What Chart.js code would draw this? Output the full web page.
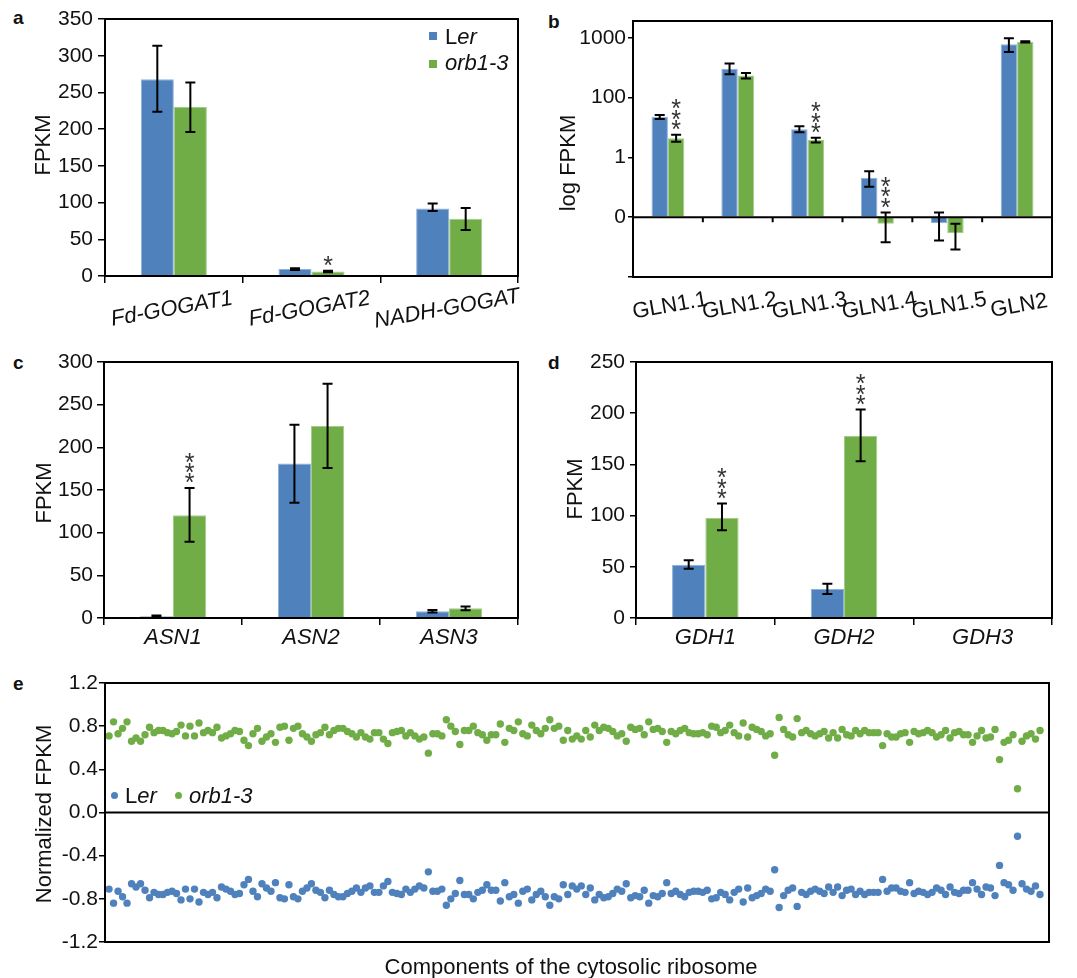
<!DOCTYPE html>
<html><head><meta charset="utf-8">
<script src="https://cdn.jsdelivr.net/npm/chart.js@4.4.1/dist/chart.umd.min.js"></script>
<style>
html,body{margin:0;padding:0;background:#fff;}
body{width:1077px;height:978px;position:relative;overflow:hidden;font-family:"Liberation Sans",Arial,Helvetica,sans-serif;color:#111;}
.box{position:absolute;}
.t{position:absolute;white-space:nowrap;line-height:1;font-size:22px;}
.rot{transform:translate(-50%,-50%) rotate(-90deg);}
.ctr{transform:translate(-50%,-50%);}
.letter{position:absolute;font-weight:bold;font-size:19px;line-height:1;}
.sq{position:absolute;width:8px;height:8px;}
.dot{position:absolute;width:7px;height:7px;border-radius:50%;}
.up{font-style:normal;}
</style></head><body>
<div class="box" id="pa"><canvas></canvas></div>
<div class="box" id="pb"><canvas></canvas></div>
<div class="box" id="pc"><canvas></canvas></div>
<div class="box" id="pd"><canvas></canvas></div>
<div class="box" id="pe"><canvas></canvas></div>

<div class="letter" style="left:13px;top:8px">a</div>
<div class="letter" style="left:548px;top:12px">b</div>
<div class="letter" style="left:13px;top:353px">c</div>
<div class="letter" style="left:548px;top:353px">d</div>
<div class="letter" style="left:13px;top:674px">e</div>

<div class="t rot" style="left:43px;top:145px">FPKM</div>
<div class="t rot" style="left:568px;top:163px">log FPKM</div>
<div class="t rot" style="left:44px;top:493px">FPKM</div>
<div class="t rot" style="left:575px;top:489px">FPKM</div>
<div class="t rot" style="left:44px;top:814px">Normalized FPKM</div>
<div class="t ctr" style="left:571px;top:967px">Components of the cytosolic ribosome</div>

<div class="sq" style="left:429px;top:32px;background:#4f81bd"></div>
<div class="t" style="left:445px;top:26px"><span class="up">L</span><i>er</i></div>
<div class="sq" style="left:429px;top:60px;background:#70ad47"></div>
<div class="t" style="left:445px;top:52px"><i>orb1-3</i></div>

<div class="dot" style="left:111px;top:792px;background:#4f81bd"></div>
<div class="t" style="left:125px;top:785px"><span class="up">L</span><i>er</i></div>
<div class="dot" style="left:175px;top:792px;background:#70ad47"></div>
<div class="t" style="left:189px;top:785px"><i>orb1-3</i></div>

<script>
const BLUE = '#4f81bd', GREEN = '#70ad47';
const BLUE_EDGE = '#8fb0d8', GREEN_EDGE = '#a3cc88';

// ---------- Panel a ----------
const aCats = ['Fd-GOGAT1', 'Fd-GOGAT2', 'NADH-GOGAT'];
const aLer = [268, 9.5, 92];
const aLerLo = [223.6, 8.3, 88.6];
const aLerHi = [313.6, 10.7, 98.6];
const aOrb = [230, 6, 78];
const aOrbLo = [196, 5, 62.7];
const aOrbHi = [263.6, 7, 92.7];
const aTickVals = [0, 50, 100, 150, 200, 250, 300, 350];
const aTickLabels = ['0', '50', '100', '150', '200', '250', '300', '350'];
const aStars = [{cat: 1, n: 1}];

// ---------- Panel b (log10 units) ----------
const bCats = ['GLN1.1', 'GLN1.2', 'GLN1.3', 'GLN1.4', 'GLN1.5', 'GLN2'];
const bLer = [1.68, 2.48, 1.47, 0.66, -0.10, 2.89];
const bLerLo = [1.64, 2.39, 1.42, 0.51, -0.39, 2.76];
const bLerHi = [1.71, 2.57, 1.52, 0.77, 0.08, 2.99];
const bOrb = [1.32, 2.37, 1.29, -0.11, -0.27, 2.93];
const bOrbLo = [1.26, 2.32, 1.25, -0.42, -0.54, 2.92];
const bOrbHi = [1.38, 2.41, 1.33, 0.08, -0.11, 2.94];
const bTickVals = [-1, 0, 1, 2, 3];
const bTickLabels = ['', '0', '1', '100', '1000'];
const bStars = [{cat: 0, n: 3}, {cat: 2, n: 3}, {cat: 3, n: 3}];

// ---------- Panel c ----------
const cCats = ['ASN1', 'ASN2', 'ASN3'];
const cLer = [2, 181, 7.8];
const cLerLo = [1.2, 135.2, 6.4];
const cLerHi = [2.8, 226.6, 9.3];
const cOrb = [120.3, 225, 11.3];
const cOrbLo = [89.5, 175.8, 9.0];
const cOrbHi = [152.3, 274.6, 13.6];
const cTickVals = [0, 50, 100, 150, 200, 250, 300];
const cTickLabels = ['0', '50', '100', '150', '200', '250', '300'];
const cStars = [{cat: 0, n: 3}];

// ---------- Panel d ----------
const dCats = ['GDH1', 'GDH2', 'GDH3'];
const dLer = [52.1, 28.3, 0.3];
const dLerLo = [48.2, 23.4, null];
const dLerHi = [56.3, 33.5, null];
const dOrb = [98, 177.7, 0.3];
const dOrbLo = [85.6, 153, null];
const dOrbHi = [111.7, 203.5, null];
const dTickVals = [0, 50, 100, 150, 200, 250];
const dTickLabels = ['0', '50', '100', '150', '200', '250'];
const dStars = [{cat: 0, n: 3}, {cat: 1, n: 3}];

// ---------- Panel e ----------
const eOrb = [
0.71,0.84,0.73,0.78,0.84,0.66,0.69,0.66,0.72,0.79,0.74,0.76,0.76,0.74,0.73,0.75,0.81,0.71,0.80,0.71,0.83,0.74,0.76,0.74,0.79,0.69,0.71,0.73,0.76,0.75,0.67,0.62,0.73,
0.78,0.66,0.70,0.73,0.65,0.79,0.80,0.67,0.78,0.80,0.73,0.70,0.66,0.72,0.74,0.79,0.72,0.76,0.78,0.78,0.75,0.73,0.70,0.74,0.70,0.68,0.74,0.74,0.68,0.64,0.74,0.75,0.76,0.71,0.74,
0.71,0.68,0.70,0.55,0.73,0.73,0.71,0.86,0.80,0.75,0.63,0.76,0.76,0.80,0.74,0.72,0.67,0.72,0.72,0.82,0.65,0.78,0.76,0.84,0.73,0.71,0.81,0.76,0.73,0.78,0.86,0.78,0.80,0.67,
0.76,0.68,0.71,0.68,0.76,0.70,0.81,0.76,0.79,0.78,0.75,0.71,0.73,0.66,0.79,0.77,0.78,0.72,0.84,0.77,0.78,0.75,0.65,0.75,0.73,0.76,0.78,0.74,0.73,0.73,0.74,0.72,0.80,0.79,0.74,
0.76,0.81,0.74,0.71,0.83,0.70,0.79,0.77,0.75,0.71,0.73,0.53,0.88,0.77,0.72,0.70,0.87,0.74,0.76,0.73,0.71,0.73,0.75,0.69,0.74,0.69,0.77,0.72,0.71,0.76,0.73,0.76,0.74,0.74,0.74,
0.62,0.73,0.70,0.70,0.73,0.74,0.65,0.75,0.73,0.74,0.76,0.74,0.70,0.72,0.76,0.69,0.74,0.75,0.72,0.72,0.65,0.71,0.76,0.69,0.70,0.77,0.49,0.65,0.67,0.72,0.22,0.66,0.71,0.73,0.68,0.76
];
const eLer = [
-0.71,-0.84,-0.73,-0.78,-0.84,-0.66,-0.69,-0.66,-0.72,-0.79,-0.74,-0.76,-0.76,-0.74,-0.73,-0.75,-0.81,-0.71,-0.80,-0.71,-0.83,-0.74,-0.76,-0.74,-0.79,-0.69,-0.71,-0.73,-0.76,-0.75,-0.67,-0.62,-0.73,
-0.78,-0.66,-0.70,-0.73,-0.65,-0.79,-0.80,-0.67,-0.78,-0.80,-0.73,-0.70,-0.66,-0.72,-0.74,-0.79,-0.72,-0.76,-0.78,-0.78,-0.75,-0.73,-0.70,-0.74,-0.70,-0.68,-0.74,-0.74,-0.68,-0.64,-0.74,-0.75,-0.76,-0.71,-0.74,
-0.71,-0.68,-0.70,-0.55,-0.73,-0.73,-0.71,-0.86,-0.80,-0.75,-0.63,-0.76,-0.76,-0.80,-0.74,-0.72,-0.67,-0.72,-0.72,-0.82,-0.65,-0.78,-0.76,-0.84,-0.73,-0.71,-0.81,-0.76,-0.73,-0.78,-0.86,-0.78,-0.80,-0.67,
-0.76,-0.68,-0.71,-0.68,-0.76,-0.70,-0.81,-0.76,-0.79,-0.78,-0.75,-0.71,-0.73,-0.66,-0.79,-0.77,-0.78,-0.72,-0.84,-0.77,-0.78,-0.75,-0.65,-0.75,-0.73,-0.76,-0.78,-0.74,-0.73,-0.73,-0.74,-0.72,-0.80,-0.79,-0.74,
-0.76,-0.81,-0.74,-0.71,-0.83,-0.70,-0.79,-0.77,-0.75,-0.71,-0.73,-0.53,-0.88,-0.77,-0.72,-0.70,-0.87,-0.74,-0.76,-0.73,-0.71,-0.73,-0.75,-0.69,-0.74,-0.69,-0.77,-0.72,-0.71,-0.76,-0.73,-0.76,-0.74,-0.74,-0.74,
-0.62,-0.73,-0.70,-0.70,-0.73,-0.74,-0.65,-0.75,-0.73,-0.74,-0.76,-0.74,-0.70,-0.72,-0.76,-0.69,-0.74,-0.75,-0.72,-0.72,-0.65,-0.71,-0.76,-0.69,-0.70,-0.77,-0.49,-0.65,-0.67,-0.72,-0.22,-0.66,-0.71,-0.73,-0.68,-0.76
];
const eTickVals = [-1.2, -0.8, -0.4, 0, 0.4, 0.8, 1.2];
const eTickLabels = ['-1.2', '-0.8', '-0.4', '0.0', '0.4', '0.8', '1.2'];

// ---------- helpers ----------
Chart.defaults.font.family = '"Liberation Sans", Arial, Helvetica, sans-serif';
Chart.defaults.font.size = 21;
Chart.defaults.color = '#111';
const FONT = '"Liberation Sans", Arial, Helvetica, sans-serif';

function geom(box, area) {
  return {yw: area.L - box.left, pt: area.T - box.top, pr: box.left + box.width - area.R, xh: box.top + box.height - area.B};
}
function placeDiv(id, box) {
  const d = document.getElementById(id);
  d.style.left = box.left + 'px'; d.style.top = box.top + 'px';
  d.style.width = box.width + 'px'; d.style.height = box.height + 'px';
  return d.querySelector('canvas');
}

function makePlugin(o) {
  return {
    id: 'panel_' + o.id,
    afterDatasetsDraw(chart) {
      const ctx = chart.ctx, ys = chart.scales.y, xs = chart.scales.x, ca = chart.chartArea;
      ctx.save();
      ctx.strokeStyle = '#000';
      if (o.zeroLine) {
        const y0 = ys.getPixelForValue(0);
        ctx.lineWidth = 2;
        ctx.beginPath(); ctx.moveTo(ca.left, y0); ctx.lineTo(ca.right, y0); ctx.stroke();
        if (o.zeroTicks) {
          ctx.beginPath();
          for (let i = 1; i < o.cats.length; i++) {
            const px = (xs.getPixelForValue(i - 1) + xs.getPixelForValue(i)) / 2;
            ctx.moveTo(px, y0); ctx.lineTo(px, y0 + 5);
          }
          ctx.stroke();
        }
      }
      if (o.err) {
        ctx.lineWidth = 2;
        o.err.forEach((e, di) => {
          const meta = chart.getDatasetMeta(di);
          meta.data.forEach((bar, i) => {
            if (e.lo[i] == null) return;
            const x0 = bar.x, yl = ys.getPixelForValue(e.lo[i]), yh = ys.getPixelForValue(e.hi[i]);
            ctx.beginPath();
            ctx.moveTo(x0, yl); ctx.lineTo(x0, yh);
            ctx.moveTo(x0 - 5, yl); ctx.lineTo(x0 + 5, yl);
            ctx.moveTo(x0 - 5, yh); ctx.lineTo(x0 + 5, yh);
            ctx.stroke();
          });
        });
      }
      if (o.stars) {
        const fs = 25;
        ctx.font = fs + 'px ' + FONT;
        ctx.fillStyle = '#333';
        ctx.textAlign = 'center';
        ctx.textBaseline = 'alphabetic';
        const meta = chart.getDatasetMeta(1);
        o.stars.forEach(s => {
          const x0 = meta.data[s.cat].x;
          const yh = ys.getPixelForValue(o.err[1].hi[s.cat]);
          for (let k = 0; k < s.n; k++) {
            const cy = yh - 11 - k * 10.2;
            ctx.fillText('*', x0, cy + 0.57 * fs);
          }
        });
      }
      ctx.restore();
    },
    afterDraw(chart) {
      const ctx = chart.ctx, xs = chart.scales.x, ca = chart.chartArea;
      ctx.save();
      ctx.strokeStyle = '#000'; ctx.lineWidth = 2;
      ctx.strokeRect(ca.left, ca.top, ca.right - ca.left, ca.bottom - ca.top);
      if (o.cats) {
        ctx.font = (o.italic ? 'italic ' : '') + '22px ' + FONT;
        ctx.fillStyle = '#111';
        ctx.textAlign = 'center';
        ctx.textBaseline = 'middle';
        o.cats.forEach((c, i) => {
          const px = xs.getPixelForValue(i) + (o.dx || 0);
          const py = ca.bottom + o.labOff;
          ctx.save();
          ctx.translate(px, py);
          ctx.rotate(-o.rot * Math.PI / 180);
          ctx.fillText(c, 0, 0);
          ctx.restore();
        });
      }
      ctx.restore();
    }
  };
}

function barPanel(o) {
  const g = geom(o.box, o.area);
  const cv = placeDiv(o.id, o.box);
  return new Chart(cv, {
    type: 'bar',
    data: {
      labels: o.cats,
      datasets: o.series.map(s => ({
        label: s.name, data: s.values, backgroundColor: s.color,
        borderColor: s.edge, borderWidth: 1,
        barPercentage: 1, categoryPercentage: o.catPct
      }))
    },
    options: {
      responsive: true, maintainAspectRatio: false, animation: false, devicePixelRatio: 1,
      layout: {padding: {left: 0, top: g.pt, right: g.pr, bottom: 0}},
      plugins: {legend: {display: false}, tooltip: {enabled: false}},
      scales: {
        x: {
          type: 'category', offset: true,
          ticks: {display: false},
          grid: {display: o.xTicks, offset: true, drawOnChartArea: false, drawTicks: true, tickLength: 7, color: '#000', lineWidth: 1.5},
          border: {display: true, color: '#000', width: 2},
          afterFit: s => { s.height = g.xh; s.paddingLeft = 0; s.paddingRight = 0; }
        },
        y: {
          min: o.yMin, max: o.yMax,
          afterBuildTicks: s => { s.ticks = o.tickVals.map(v => ({value: v})); },
          ticks: {padding: o.tickPad, color: '#111', font: {size: 21}, callback: v => o.tickLabels[o.tickVals.indexOf(v)]},
          grid: {drawOnChartArea: false, drawTicks: true, tickLength: o.tickLen, color: '#000', lineWidth: 1.5},
          border: {display: true, color: '#000', width: 2},
          afterFit: s => { s.width = g.yw; s.paddingTop = 0; s.paddingBottom = 0; }
        }
      }
    },
    plugins: [makePlugin(o)]
  });
}

const SER = (ler, orb) => [
  {name: 'Ler', values: ler, color: BLUE, edge: BLUE_EDGE},
  {name: 'orb1-3', values: orb, color: GREEN, edge: GREEN_EDGE}
];

barPanel({
  id: 'pa', box: {left: 50, top: 0, width: 490, height: 330}, area: {L: 105, T: 19, R: 518, B: 276},
  cats: aCats, catPct: 0.48, xTicks: true,
  series: SER(aLer, aOrb),
  err: [{lo: aLerLo, hi: aLerHi}, {lo: aOrbLo, hi: aOrbHi}],
  stars: aStars, yMin: 0, yMax: 350, tickVals: aTickVals, tickLabels: aTickLabels,
  tickPad: 5, tickLen: 7, italic: true, rot: 10, labOff: 33, dx: -2
});
barPanel({
  id: 'pb', box: {left: 570, top: 0, width: 500, height: 330}, area: {L: 633, T: 21, R: 1052, B: 277},
  cats: bCats, catPct: 0.47, xTicks: false, zeroLine: true, zeroTicks: true,
  series: SER(bLer, bOrb),
  err: [{lo: bLerLo, hi: bLerHi}, {lo: bOrbLo, hi: bOrbHi}],
  stars: bStars, yMin: -1, yMax: 3.28, tickVals: bTickVals, tickLabels: bTickLabels,
  tickPad: 2, tickLen: 5, italic: false, rot: 10, labOff: 29, dx: 2
});
barPanel({
  id: 'pc', box: {left: 50, top: 330, width: 490, height: 330}, area: {L: 104, T: 362, R: 518, B: 618},
  cats: cCats, catPct: 0.48, xTicks: true,
  series: SER(cLer, cOrb),
  err: [{lo: cLerLo, hi: cLerHi}, {lo: cOrbLo, hi: cOrbHi}],
  stars: cStars, yMin: 0, yMax: 300, tickVals: cTickVals, tickLabels: cTickLabels,
  tickPad: 4, tickLen: 7, italic: true, rot: 0, labOff: 20, dx: 0
});
barPanel({
  id: 'pd', box: {left: 580, top: 330, width: 490, height: 330}, area: {L: 636, T: 362, R: 1052, B: 618},
  cats: dCats, catPct: 0.48, xTicks: true,
  series: SER(dLer, dOrb),
  err: [{lo: dLerLo, hi: dLerHi}, {lo: dOrbLo, hi: dOrbHi}],
  stars: dStars, yMin: 0, yMax: 250, tickVals: dTickVals, tickLabels: dTickLabels,
  tickPad: 5, tickLen: 6, italic: true, rot: 0, labOff: 20, dx: 0
});

// scatter panel e
(function () {
  const box = {left: 50, top: 672, width: 1020, height: 290}, area = {L: 105, T: 683, R: 1049, B: 942};
  const g = geom(box, area);
  const cv = placeDiv('pe', box);
  const o = {id: 'pe', zeroLine: true};
  new Chart(cv, {
    type: 'scatter',
    data: {
      datasets: [
        {label: 'Ler', data: eLer.map((v, i) => ({x: i, y: v})), backgroundColor: BLUE, borderColor: BLUE, pointRadius: 3.7, pointBorderWidth: 0},
        {label: 'orb1-3', data: eOrb.map((v, i) => ({x: i, y: v})), backgroundColor: GREEN, borderColor: GREEN, pointRadius: 3.7, pointBorderWidth: 0}
      ]
    },
    options: {
      responsive: true, maintainAspectRatio: false, animation: false, devicePixelRatio: 1,
      layout: {padding: {left: 0, top: g.pt, right: g.pr, bottom: 0}},
      plugins: {legend: {display: false}, tooltip: {enabled: false}},
      scales: {
        x: {
          type: 'linear', min: -0.9, max: 209,
          ticks: {display: false}, grid: {display: false},
          border: {display: true, color: '#000', width: 2},
          afterFit: s => { s.height = g.xh; s.paddingLeft = 0; s.paddingRight = 0; }
        },
        y: {
          min: -1.2, max: 1.2,
          afterBuildTicks: s => { s.ticks = eTickVals.map(v => ({value: v})); },
          ticks: {padding: 1, color: '#111', font: {size: 21}, callback: v => eTickLabels[eTickVals.indexOf(v)]},
          grid: {drawOnChartArea: false, drawTicks: true, tickLength: 6, color: '#000', lineWidth: 1.5},
          border: {display: true, color: '#000', width: 2},
          afterFit: s => { s.width = g.yw; s.paddingTop = 0; s.paddingBottom = 0; }
        }
      }
    },
    plugins: [makePlugin(o)]
  });
})();
</script>
</body></html>
